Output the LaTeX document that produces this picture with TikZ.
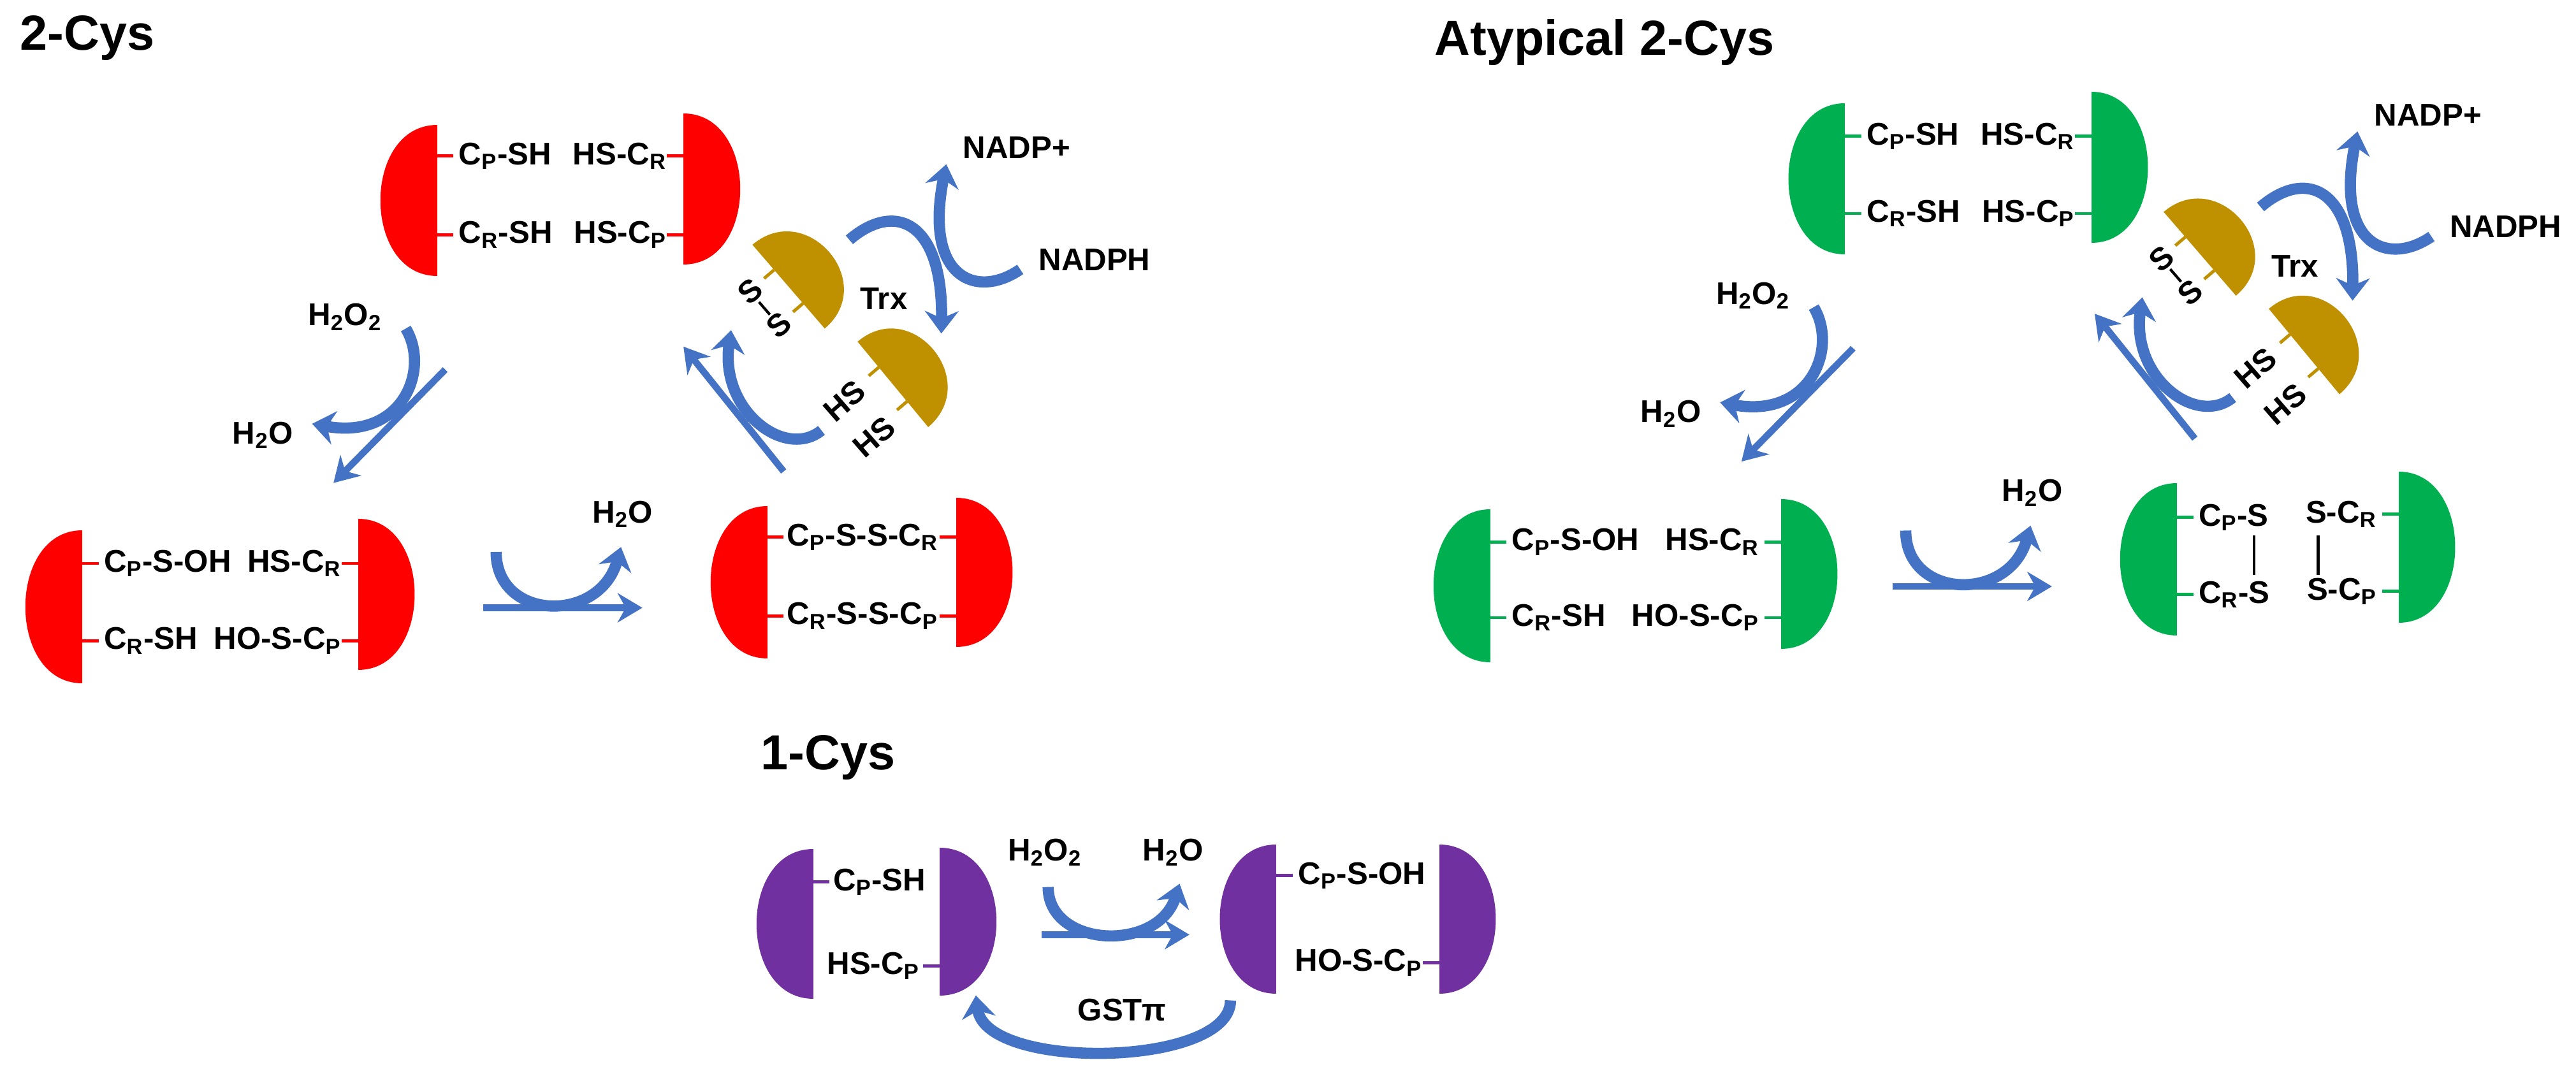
\documentclass[tikz,border=0pt]{standalone}
\usepackage{fontspec}
\setmainfont{Liberation Sans}
\usetikzlibrary{arrows.meta}
\definecolor{pr}{HTML}{FF0000}
\definecolor{pg}{HTML}{00B050}
\definecolor{pp}{HTML}{7030A0}
\definecolor{bl}{HTML}{4472C4}
\definecolor{gd}{HTML}{BF9000}
\newcommand{\hdL}[4]{\fill[#1] (#2,#3) -- (#2,#4) .. controls ({#2-46},#4) and ({#2-46},#3) .. (#2,#3) -- cycle;}
\newcommand{\hdR}[4]{\fill[#1] (#2,#3) -- (#2,#4) .. controls ({#2+46},#4) and ({#2+46},#3) .. (#2,#3) -- cycle;}
\newcommand{\tkL}[3]{\draw[#1,line width=1.4pt] (#2,#3) -- ({#2+10},#3);}
\newcommand{\tkR}[3]{\draw[#1,line width=1.4pt] (#2,#3) -- ({#2-10},#3);}
\newcommand{\Cs}[1]{C\textsubscript{#1}}
\newcommand{\Hoo}{H\textsubscript{2}O\textsubscript{2}}
\newcommand{\Ho}{H\textsubscript{2}O}
\newcommand{\trxcycle}[1]{%
\draw[ln] (477,287) -- (416,211);
\draw[cv] (500,262) .. controls (478,280) and (438,250) .. (445,201);
\fill[gd] (458,149) -- (502,200) .. controls (535,172) and (491,121) .. (458,149) -- cycle;
\draw[gd,line width=1.4pt] (471.2,164.3) -- (465.1,169.5) (488.8,184.7) -- (482.7,189.9);
\node[lab,rotate=41] (#1s1) at (456.5,177.5) {S};
\node[lab,rotate=41] (#1s2) at (474.1,197.9) {S};
\draw[line width=1.2pt,shorten <=1pt,shorten >=1pt] (#1s1) -- (#1s2);
\node[lab] (#1trx) at (538,182) {Trx};
\fill[gd] (522,208) -- (565,260) .. controls (598,232) and (555,180) .. (522,208) -- cycle;
\draw[gd,line width=1.4pt] (534.9,223.6) -- (528.8,228.8) (552.1,244.4) -- (546,249.6);
\node[lab,rotate=41] (#1h1) at (514,244) {HS};
\node[lab,rotate=41] (#1h2) at (532,266) {HS};
\node[lab,anchor=west] (#1n1) at (586,90) {NADP+};
\node[lab,anchor=west] (#1n2) at (632,158) {NADPH};
\draw[cv] (517,146) .. controls (545,122) and (574,135) .. (573,203);
\draw[cv] (621,164) .. controls (595,182) and (562,170) .. (576,100);
}
\begin{document}
\begin{tikzpicture}[x=0.02577cm,y=-0.02577cm,
  lab/.style={font=\fontsize{14}{16}\selectfont\bfseries,inner sep=0pt},
  ttl/.style={font=\fontsize{22}{24}\selectfont\bfseries,anchor=west,inner sep=0pt},
  ln/.style={bl,line width=3pt,-{Stealth[length=11pt,width=13pt]}},
  cv/.style={bl,line width=5pt,-{Stealth[length=10pt,width=15pt]}}]
\useasboundingbox (0,0) rectangle (1568,649.2);
% titles
\node[ttl] (t1) at (12,23) {2-Cys};
\node[ttl] (t2) at (873,26) {Atypical 2-Cys};
\node[ttl] (t3) at (463,461) {1-Cys};
% ===== 2-Cys =====
\hdL{pr}{266}{76}{168}\hdR{pr}{416}{69}{161}
\tkL{pr}{266}{95}\tkL{pr}{266}{143}\tkR{pr}{416}{95}\tkR{pr}{416}{143}
\node[lab,anchor=west] (a1) at (279,95) {\Cs{P}-SH};
\node[lab,anchor=east] (a2) at (406,95) {HS-\Cs{R}};
\node[lab,anchor=west] (a3) at (279,143) {\Cs{R}-SH};
\node[lab,anchor=east] (a4) at (406,143) {HS-\Cs{P}};
\hdL{pr}{50}{323}{416}\hdR{pr}{218}{316}{408}
\tkL{pr}{50}{343}\tkL{pr}{50}{390}\tkR{pr}{218}{343}\tkR{pr}{218}{390}
\node[lab,anchor=west] (b1) at (63,343) {\Cs{P}-S-OH};
\node[lab,anchor=east] (b2) at (208,343) {HS-\Cs{R}};
\node[lab,anchor=west] (b3) at (63,390) {\Cs{R}-SH};
\node[lab,anchor=east] (b4) at (208,390) {HO-S-\Cs{P}};
\hdL{pr}{467}{308}{401}\hdR{pr}{582}{303}{394}
\tkL{pr}{467}{327}\tkL{pr}{467}{375}\tkR{pr}{582}{327}\tkR{pr}{582}{375}
\node[lab] (c1) at (525,327) {\Cs{P}-S-S-\Cs{R}};
\node[lab] (c2) at (525,375) {\Cs{R}-S-S-\Cs{P}};
\begin{scope}
\node[lab] (h1) at (210,193) {\Hoo};
\node[lab] (h2) at (160,265) {\Ho};
\draw[ln] (271,225) -- (203,294);
\draw[cv] (247,200) .. controls (262,225) and (245,268) .. (190,258);
\end{scope}
\begin{scope}
\node[lab] (h3) at (379,313) {\Ho};
\draw[ln] (294,370) -- (391,370);
\draw[cv] (302,336) .. controls (302,378) and (365,380) .. (378,333);
\end{scope}
\begin{scope}
\trxcycle{L}
\end{scope}
% ===== Atypical =====
\hdL{pg}{1123}{63}{155}\hdR{pg}{1273}{56}{148}
\tkL{pg}{1123}{83}\tkL{pg}{1123}{130}\tkR{pg}{1273}{83}\tkR{pg}{1273}{130}
\node[lab,anchor=west] (d1) at (1136,83) {\Cs{P}-SH};
\node[lab,anchor=east] (d2) at (1263,83) {HS-\Cs{R}};
\node[lab,anchor=west] (d3) at (1136,130) {\Cs{R}-SH};
\node[lab,anchor=east] (d4) at (1263,130) {HS-\Cs{P}};
\hdL{pg}{907}{310}{403}\hdR{pg}{1084}{304}{395}
\tkL{pg}{907}{330}\tkL{pg}{907}{376}\tkR{pg}{1084}{330}\tkR{pg}{1084}{376}
\node[lab,anchor=west] (e1) at (920,330) {\Cs{P}-S-OH};
\node[lab,anchor=east] (e2) at (1071,330) {HS-\Cs{R}};
\node[lab,anchor=west] (e3) at (920,376) {\Cs{R}-SH};
\node[lab,anchor=east] (e4) at (1071,376) {HO-S-\Cs{P}};
\hdL{pg}{1325}{294}{387}\hdR{pg}{1460}{287}{379}
\tkL{pg}{1325}{315}\tkL{pg}{1325}{362}\tkR{pg}{1460}{313}\tkR{pg}{1460}{360}
\node[lab,anchor=west] (f1) at (1338,315) {\Cs{P}-S};
\node[lab,anchor=west] (f2) at (1338,362) {\Cs{R}-S};
\node[lab,anchor=east] (f3) at (1447,313) {S-\Cs{R}};
\node[lab,anchor=east] (f4) at (1447,360) {S-\Cs{P}};
\draw[line width=1.2pt] (1372,326) -- (1372,350) (1411,326) -- (1411,350);
\begin{scope}[shift={(857,-13)}]
\node[lab] (g1) at (210,193) {\Hoo};
\node[lab] (g2) at (160,265) {\Ho};
\draw[ln] (271,225) -- (203,294);
\draw[cv] (247,200) .. controls (262,225) and (245,268) .. (190,258);
\end{scope}
\begin{scope}[shift={(858,-13)}]
\node[lab] (g3) at (379,313) {\Ho};
\draw[ln] (294,370) -- (391,370);
\draw[cv] (302,336) .. controls (302,378) and (365,380) .. (378,333);
\end{scope}
\begin{scope}[shift={(859,-20)}]
\trxcycle{R}
\end{scope}
% ===== 1-Cys =====
\hdL{pp}{495}{517}{608}\hdR{pp}{572}{516}{606}
\tkL{pp}{495}{537}\tkR{pp}{572}{588}
\node[lab,anchor=west] (p1) at (507,537) {\Cs{P}-SH};
\node[lab,anchor=east] (p2) at (560,588) {HS-\Cs{P}};
\hdL{pp}{777}{514}{605}\hdR{pp}{876}{514}{605}
\tkL{pp}{777}{533}\tkR{pp}{876}{586}
\node[lab,anchor=west] (q1) at (790,533) {\Cs{P}-S-OH};
\node[lab,anchor=east] (q2) at (866,586) {HO-S-\Cs{P}};
\node[lab] (k1) at (636,519) {\Hoo};
\node[lab] (k2) at (714,519) {\Ho};
\node[lab] (k3) at (683,615) {GSTπ};
\draw[ln] (634,569) -- (724,569);
\draw[cv] (638,540) .. controls (638,577) and (705,580) .. (718,538);
\draw[cv] (749,609) .. controls (749,650) and (600,652) .. (594,606);
\end{tikzpicture}
\end{document}
